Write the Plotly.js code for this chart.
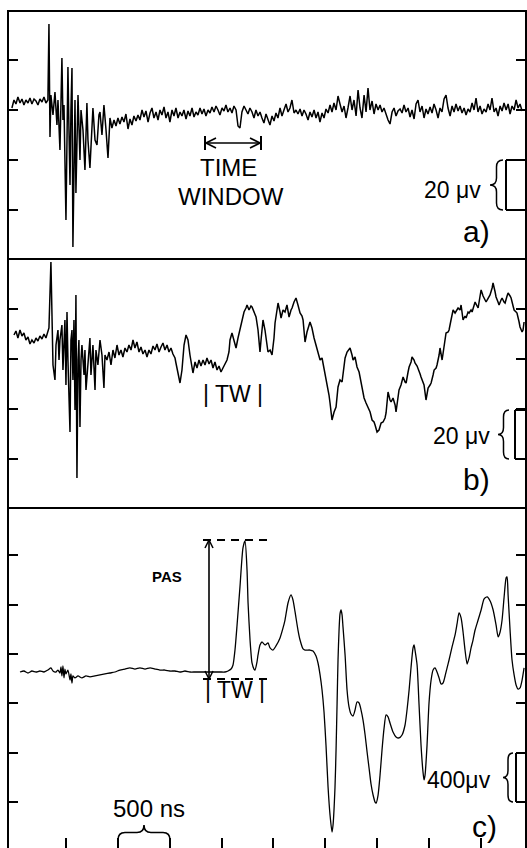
<!DOCTYPE html>
<html><head><meta charset="utf-8">
<script src="https://cdn.plot.ly/plotly-3.0.1.min.js"></script>
<style>html,body{margin:0;padding:0;background:#fff}#chart{width:527px;height:848px}</style>
</head><body><div id="chart"></div>
<script>
// ---- data: time in ns, signals in microvolts ----
const aT = [-521,-501,-482,-463,-443,-424,-405,-386,-366,-347,
-328,-308,-289,-270,-251,-231,-212,-193,-174,-164,
-154,-145,-125,-106,-87,-77,-58,-39,-29,-19,
0,10,19,29,39,48,58,67,77,87,
96,106,116,135,145,164,183,202,212,231,
251,260,280,299,318,328,347,366,386,405,
424,443,463,482,501,520,540,559,578,598,
617,636,655,675,694,713,733,752,771,791,
810,829,848,868,887,906,925,945,964,983,
1002,1022,1041,1060,1080,1099,1118,1137,1157,1176,
1195,1215,1234,1253,1272,1292,1311,1330,1349,1369,
1388,1407,1427,1446,1465,1484,1504,1523,1542,1561,
1581,1600,1619,1639,1658,1677,1696,1716,1735,1754,
1773,1793,1812,1831,1851,1870,1889,1908,1928,1947,
1966,1986,2005,2024,2043,2063,2082,2101,2121,2140,
2159,2178,2198,2217,2236,2256,2275,2294,2313,2333,
2352,2371,2391,2410,2429,2448,2468,2487,2506,2526,
2545,2564,2583,2603,2622,2641,2661,2680,2699,2718,
2738,2757,2776,2796,2815,2834,2853,2873,2892,2911,
2930,2950,2969,2988,3008,3027,3046,3065,3085,3104,
3123,3143,3162,3181,3200,3220,3239,3258,3277,3297,
3316,3335,3355,3374,3393,3412,3432,3451,3470,3489,
3509,3528,3547,3567,3586,3605,3624,3644,3663,3682,
3702,3721,3740,3759,3779,3798,3817,3837,3856,3875,
3894,3914,3933,3952,3971,3991,4010,4029,4049,4068,
4087,4106,4126,4145,4164,4184,4203,4222,4242,4261,
4280,4299,4319,4338,4357,4376,4396];
const aV = [0.8,4,2.4,5.2,2.8,4.4,2,4,2.8,4.8,
2.4,4.4,3.6,2,4.4,3.2,5.2,2.8,4,34.4,
-10.8,6,-2,7.2,-6,4,-16,20.8,-4,2,
-44,-2,17.2,-8,-30,0,16.8,-54.8,-16,4,
-33.2,-6,6,-20,0,-8,-24,2.8,-12,-23.2,
-2,0.8,-12,-14,-2,-0.8,-10,2,-8,-19.2,
-3.2,-7.2,-4,-6.4,-3.2,-5.6,-2.8,-4.8,-1.6,-7.6,
-3.6,-6,-2.4,-4.4,-2,-4,0,-2.8,-0.4,-4.8,
-1.2,0.8,-3.2,-0.8,-4,0,-2,1.2,-3.2,-0.8,
-4.8,0,-2.4,0.8,-3.2,-0.8,-2.4,0,-3.6,-0.4,
-2.4,0.8,-2.8,-0.8,-2,0.8,-1.6,0.4,-2.4,0,
-1.2,1.2,-0.8,1.6,0,-2,0.8,-0.4,2,-0.8,
0.8,-1.2,1.6,0,-6.4,-7.2,-0.8,1.6,0,-1.6,
0.8,-0.8,-3.2,0,-2.4,-0.8,-3.2,-5.2,-1.6,-4,
-6,-2.4,-4.4,-1.2,-3.2,0.8,-2.4,0,2.4,-0.8,
0.8,4,-1.2,0,-1.6,0.4,-2.4,0,-1.6,-4,
-0.8,-2.8,0,-3.2,-0.8,-4.8,-1.2,-3.2,0.4,-1.2,
2,-0.8,2.8,0,5.6,2.4,-0.8,1.6,-3.2,0.8,
5.6,0,4,-2.4,8,0.8,-3.2,6,-0.8,8.8,
0,3.6,-1.6,2.4,0,2,-0.8,0.8,-2,-4,
-5.6,-0.8,0.8,-2.4,-0.4,0.4,-1.2,2,-0.8,0.8,
-2.8,0,-3.6,2.4,4,-0.8,1.6,-3.2,0.4,-1.6,
1.2,-1.2,2.4,0,-3.2,0.8,-0.8,4.4,6,0.8,
-2.4,1.6,-0.8,2.4,-0.4,1.6,-1.2,0.8,-2,0.4,
-0.8,2.8,0,4.8,-0.8,1.6,-1.6,0.4,-0.8,2.4,
0,4.8,-0.8,0.8,-2.4,1.6,-0.4,2.8,0,2.4,
-1.6,1.6,0,4,0.8,2.4,-0.4];

const bT = [-501,-482,-463,-443,-424,-405,-386,-366,-347,-328,
-308,-289,-270,-251,-231,-212,-193,-174,-164,-145,
-135,-125,-106,-96,-77,-67,-58,-39,-29,-19,
-10,0,10,19,29,39,48,58,67,77,
87,96,106,116,125,135,145,154,174,183,
193,212,231,241,260,280,289,308,328,347,
366,376,395,415,434,453,472,492,511,530,
549,569,588,607,627,646,665,684,704,723,
742,762,781,800,819,839,858,877,897,916,
935,954,974,993,1012,1031,1051,1060,1080,1099,
1118,1138,1157,1176,1195,1215,1224,1244,1263,1282,
1301,1321,1340,1359,1379,1398,1417,1436,1456,1475,
1494,1513,1533,1552,1571,1581,1600,1620,1639,1658,
1677,1697,1716,1735,1745,1764,1783,1793,1812,1832,
1851,1870,1880,1899,1918,1947,1967,1986,2005,2015,
2034,2044,2063,2073,2092,2111,2130,2150,2169,2179,
2198,2217,2236,2256,2275,2285,2304,2323,2352,2371,
2391,2410,2429,2449,2468,2487,2497,2516,2535,2545,
2564,2584,2603,2622,2641,2661,2680,2690,2709,2728,
2738,2757,2767,2786,2805,2825,2844,2853,2873,2892,
2911,2931,2950,2969,2979,2998,3017,3037,3056,3075,
3085,3104,3123,3133,3152,3172,3181,3200,3210,3229,
3249,3268,3278,3297,3307,3326,3335,3355,3364,3384,
3393,3413,3422,3441,3451,3470,3490,3509,3519,3538,
3548,3567,3576,3596,3605,3625,3644,3663,3683,3692,
3711,3731,3750,3769,3779,3798,3808,3827,3846,3856,
3875,3885,3904,3914,3933,3943,3962,3972,3991,4001,
4020,4030,4049,4059,4078,4087,4107,4116,4136,4145,
4164,4174,4193,4203,4222,4232,4251,4261,4280,4290,
4309,4319,4338,4347,4367,4376,4396,4405,4415];
const bV = [9.6,11.2,8.4,11.6,9.2,10.4,7.6,8.8,6,7.6,
6.4,8.4,7.2,9.2,8,10,8.4,10.8,12.4,38.8,
11.6,-2.4,-8.4,5.6,11.6,-0.4,7.6,13.6,-4.4,5.6,
15.6,-10.4,18.8,-0.4,-14.4,-29.2,7.6,11.6,-8.4,15.6,
-20.4,25.6,-47.6,-0.4,7.6,-27.2,-0.4,5.6,-6.4,3.6,
-12.4,-0.4,8.4,-6.4,5.6,-12.4,3.6,-2.4,7.6,1.6,
-11.6,1.6,-0.4,2.8,-2.4,3.6,0.4,5.6,1.6,3.6,
0.8,4.4,2.8,5.6,3.6,7.6,4.4,6.8,2.8,4.8,
2,3.6,0.8,3.6,2,5.2,3.6,6,2.8,4.8,
6.4,3.6,5.6,2.8,4.4,2,0.4,-1.6,-5.2,-9.6,
-4.4,5.6,9.6,7.6,1.6,-3.6,-5.6,-1.2,-3.6,-0.4,
-2.8,-0.4,-2.4,0.4,-2,-0.4,-3.6,-1.2,-4.4,-2.8,
-5.2,-3.6,-2,-0.4,2.8,7.6,10.4,6.8,4.4,8.4,
11.6,15.6,18.8,20.4,21.6,19.6,21.2,20.8,18.8,16.8,
11.6,2.8,7.6,15.6,11.6,2.8,3.6,1.6,8.4,14.4,
19.6,22.4,18.8,16.4,19.6,18.8,21.6,16.8,19.6,20.4,
22.8,24.4,21.6,18.4,17.2,15.6,6.8,10.8,14.8,12.4,
8.4,5.6,2.8,-0.4,0.4,-3.6,-5.6,-10.4,-14.4,-17.6,
-24.4,-21.2,-19.2,-11.2,-8.4,-9.2,-2.4,0.4,2.8,3.6,
4.4,1.6,-0.4,0.8,-3.2,-5.2,-9.2,-12.4,-15.6,-17.6,
-19.6,-21.2,-24.4,-25.2,-26.4,-29.2,-28.4,-25.6,-25.2,-23.6,
-21.6,-13.2,-16.4,-17.2,-15.6,-18.4,-21.2,-16.4,-12.4,-10.4,
-7.2,-9.2,-9.6,-5.2,-3.2,-1.2,0.8,-0.4,-1.6,-2.8,
-3.6,-6,-7.2,-9.2,-10.4,-16.4,-11.6,-10.4,-9.6,-6.4,
-4.4,-3.6,-2.4,1.6,4.4,-0.4,5.6,10.4,10.8,11.6,
15.6,19.6,18.4,19.6,20.4,19.6,21.6,15.6,17.2,16.4,
18.8,18.4,19.6,18.8,21.2,22.8,21.2,20.4,25.2,27.6,
25.2,24.4,22.8,23.6,25.2,25.6,28.4,30.4,26.8,24.8,
22.8,21.6,23.6,24.4,22.8,22.4,25.2,26.4,25.2,24.4,
21.2,19.6,18.8,18.4,14.8,12.8,10.8,11.6,14.8];

const cT = [-443,-405,-366,-328,-289,-251,-212,-174,-145,-125,
-96,-77,-58,-48,-39,-29,-19,-10,0,19,
39,48,58,67,87,116,154,193,231,280,
328,376,424,472,520,569,617,665,713,762,
810,858,906,954,1002,1051,1099,1147,1195,1244,
1292,1340,1388,1436,1485,1533,1562,1591,1610,1629,
1649,1677,1706,1726,1745,1755,1774,1793,1812,1822,
1841,1851,1870,1889,1918,1947,1967,1995,2024,2063,
2092,2111,2140,2169,2188,2208,2236,2256,2285,2304,
2352,2381,2410,2429,2449,2468,2487,2506,2526,2545,
2564,2574,2593,2603,2613,2622,2632,2641,2651,2661,
2670,2690,2709,2728,2747,2767,2786,2805,2825,2844,
2863,2883,2902,2921,2940,2960,2979,2989,3008,3027,
3046,3066,3085,3104,3123,3152,3181,3210,3239,3268,
3287,3307,3326,3345,3355,3364,3384,3403,3422,3441,
3451,3461,3480,3499,3519,3538,3557,3576,3596,3615,
3634,3654,3673,3692,3721,3750,3769,3788,3808,3827,
3846,3866,3885,3904,3923,3943,3972,4001,4030,4059,
4088,4117,4145,4165,4184,4203,4222,4242,4251,4261,
4280,4299,4319,4338,4357,4376,4396,4415];
const cV = [-146,-138,-154,-138,-146,-138,-146,-130,-113,-138,
-146,-130,-154,-105,-178,-97,-194,-122,-162,-130,
-211,-162,-235,-178,-194,-178,-194,-178,-186,-178,
-170,-162,-154,-146,-130,-122,-113,-122,-113,-122,
-113,-122,-130,-130,-138,-138,-146,-138,-146,-146,
-146,-146,-146,-146,-146,-146,-138,-122,-89,32,
235,543,859,915,680,413,113,-73,-122,-130,
-65,-8,73,97,73,89,49,32,65,130,
211,275,413,478,437,340,194,113,41,32,
32,24,-16,-73,-170,-292,-470,-737,-1077,-1304,
-1442,-1385,-1077,-778,-397,-49,194,324,356,316,
219,-8,-292,-429,-486,-502,-454,-389,-397,-454,
-535,-656,-794,-923,-1053,-1142,-1199,-1207,-1142,-980,
-778,-599,-494,-510,-559,-632,-672,-680,-656,-575,
-454,-292,-105,49,73,32,-89,-413,-737,-956,
-1020,-980,-737,-397,-211,-130,-113,-146,-194,-243,
-235,-178,-113,-49,57,154,243,332,292,178,
32,-81,-32,49,113,194,275,356,446,462,
429,356,235,138,178,275,454,616,624,478,
194,-49,-170,-251,-284,-275,-211,-113];

const xTicks = [0,500,1000,1500,2000,2500,3000,3500,4000];
const aTicks = [-40,-20,0,20];
const bTicks = [-40,-20,0,20];
const cTicks = [-1200,-800,-400,0,400,800];
const panelLabels = ['a)','b)','c)'];
const scaleLabels = ['20 μv','20 μv','400μv'];

// ---- layout geometry ----
const W=527, H=848, ML=9, MR=2, MT=12, MB=0;
const PW=W-ML-MR, PH=H-MT-MB;
const fx = p => (p-ML)/PW;
const fy = p => (H-MB-p)/PH;
const xRange = [-549, 4424];
const FONT = 'Liberation Sans, Arial, Helvetica, sans-serif';

function pt(x,y){return fx(x).toFixed(5)+','+fy(y).toFixed(5);}
function vbrace(xl,xr,yt,yb){
  const xm=(xl+xr)/2, ym=(yt+yb)/2, d=Math.min(7,(yb-yt)/5);
  return 'M'+pt(xr,yt)+' Q'+pt(xm,yt)+' '+pt(xm,yt+d)+' L'+pt(xm,ym-d)+
    ' Q'+pt(xm,ym)+' '+pt(xl,ym)+' Q'+pt(xm,ym)+' '+pt(xm,ym+d)+
    ' L'+pt(xm,yb-d)+' Q'+pt(xm,yb)+' '+pt(xr,yb);
}
function hbrace(x0,x1,yt,yb){
  const xc=(x0+x1)/2, ym=(yt+yb)/2, d=7;
  return 'M'+pt(x0,yb)+' Q'+pt(x0,ym)+' '+pt(x0+d,ym)+' L'+pt(xc-d,ym)+
    ' Q'+pt(xc,ym)+' '+pt(xc,yt)+' Q'+pt(xc,ym)+' '+pt(xc+d,ym)+
    ' L'+pt(x1-d,ym)+' Q'+pt(x1,ym)+' '+pt(x1,yb);
}
function seg(x0,y0,x1,y1,w,dash){
  return {type:'line',xref:'paper',yref:'paper',x0:fx(x0),y0:fy(y0),x1:fx(x1),y1:fy(y1),
    line:{color:'#000',width:w||1.6,dash:dash||'solid'}};
}
function pathShape(p,w){return {type:'path',xref:'paper',yref:'paper',path:p,line:{color:'#000',width:w||1.5}};}
function txt(s,x,y,size,xa,bold){
  return {xref:'paper',yref:'paper',x:fx(x),y:fy(y),text:bold?'<b>'+s+'</b>':s,showarrow:false,
    xanchor:xa||'center',yanchor:'middle',font:{family:FONT,size:size,color:'#000'}};
}

const line = {color:'#000', width:1.5};
const traces = [
  {x:aT,y:aV,xaxis:'x',yaxis:'y',mode:'lines',line:line,hoverinfo:'skip'},
  {x:bT,y:bV,xaxis:'x2',yaxis:'y2',mode:'lines',line:line,hoverinfo:'skip'},
  {x:cT,y:cV,xaxis:'x3',yaxis:'y3',mode:'lines',line:{color:'#000',width:1.3,shape:'spline',smoothing:0.6},hoverinfo:'skip'}
];

const xBase = {range:xRange,showgrid:false,zeroline:false,showticklabels:false};
const yBase = {showgrid:false,zeroline:false,showticklabels:false,showline:true,linecolor:'#000',linewidth:2,
  mirror:'ticks',ticks:'inside',ticklen:9,tickwidth:2,tickcolor:'#000',tickmode:'array'};

const shapes = [
  // panel a time-window arrow
  seg(205,143,261,143,1.6), seg(206,143,216,138,1.6), seg(206,143,216,148,1.6),
  seg(260,143,250,138,1.6), seg(260,143,250,148,1.6),
  seg(205,136,205,150,2), seg(261,136,261,150,2),
  // scale brackets
  pathShape(vbrace(490,503,160,210)), seg(506,160,506,210,2), seg(506,160,525,160,2), seg(506,210,525,210,2),
  pathShape(vbrace(498,509,410,459)), seg(515,410,515,459,2), seg(515,410,525,410,2), seg(515,459,525,459,2),
  pathShape(vbrace(503,513,753,802)), seg(516,753,516,802,2), seg(516,753,525,753,2), seg(516,802,525,802,2),
  // PAS arrow and dashed levels
  seg(209,540,209,679,1.6), seg(209,540,205,548,1.6), seg(209,540,213,548,1.6),
  seg(209,679,205,671,1.6), seg(209,679,213,671,1.6),
  seg(203,540,272,540,2,'8px,6px'), seg(203,679,270,679,2,'8px,6px'),
  // 500 ns brace
  pathShape(hbrace(118,170,825,840),1.6)
];

const annotations = [
  txt('TIME',228,168,24), txt('WINDOW',231,196,24),
  txt(scaleLabels[0],483,190,23,'right'), txt(panelLabels[0],492,231,30,'right'),
  txt('| TW |',233,394,23), txt(scaleLabels[1],492,436,23,'right'), txt(panelLabels[1],492,480,30,'right'),
  txt('PAS',167,576,15,'center',true), txt('| TW |',235,690,23),
  txt(scaleLabels[2],493,780,23,'right'), txt(panelLabels[2],499,826,30,'right'),
  txt('500 ns',149,808,24)
];

const layout = {
  width:W, height:H, margin:{l:ML,r:MR,t:MT,b:MB,pad:0,autoexpand:false},
  paper_bgcolor:'#fff', plot_bgcolor:'#fff', showlegend:false,
  xaxis: Object.assign({},xBase,{anchor:'y',domain:[0,1],showline:true,mirror:true,linecolor:'#000',linewidth:2,ticks:''}),
  xaxis2: Object.assign({},xBase,{anchor:'y2',domain:[0,1],showline:true,mirror:false,linecolor:'#000',linewidth:2,ticks:''}),
  xaxis3: Object.assign({},xBase,{anchor:'y3',domain:[0,1],showline:false,ticks:'inside',ticklen:10,tickwidth:2,
    tickcolor:'#000',tickmode:'array',tickvals:xTicks}),
  yaxis: Object.assign({},yBase,{anchor:'x',domain:[fy(258),1],range:[-59.2,39.2],tickvals:aTicks}),
  yaxis2: Object.assign({},yBase,{anchor:'x2',domain:[fy(507),fy(258)],range:[-59.2,40.4],tickvals:bTicks}),
  yaxis3: Object.assign({},yBase,{anchor:'x3',domain:[0,fy(507)],range:[-1571,1190],tickvals:cTicks}),
  shapes:shapes, annotations:annotations
};

Plotly.newPlot('chart', traces, layout, {staticPlot:true, displayModeBar:false});
</script></body></html>
